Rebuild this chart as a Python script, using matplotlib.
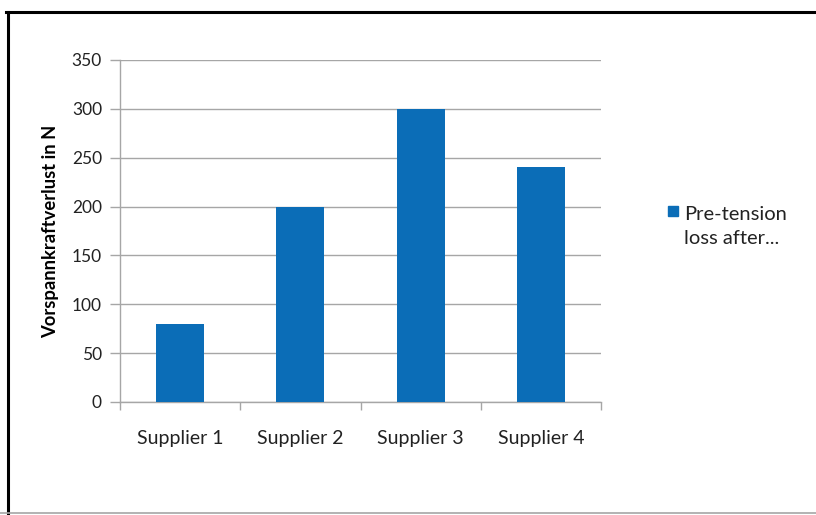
import matplotlib.pyplot as plt
from matplotlib.lines import Line2D

plt.rcParams['font.family'] = ['Lato', 'DejaVu Sans']

# Vorspannkraftverlust pro Lieferant
suppliers = ['Supplier 1', 'Supplier 2', 'Supplier 3', 'Supplier 4']
loss = [80, 200, 300, 240]
series_name = 'Pre-tension\nloss after...'
yticks = [0, 50, 100, 150, 200, 250, 300, 350]

bar_color = '#0B6DB7'
grid_color = '#A6A6A6'
text_color = '#222222'

fig = plt.figure(figsize=(8.16, 5.15), dpi=100)
ax = fig.add_axes([120 / 816, 1 - 402 / 515, 481 / 816, 342 / 515])

x = range(len(suppliers))
ax.bar(x, loss, width=0.4, color=bar_color, zorder=3)

ax.set_xlim(-0.5, len(suppliers) - 0.5)
ax.set_ylim(0, 350)
ax.set_yticks(yticks)
ax.set_xticks(list(x))
ax.set_xticklabels(suppliers, fontsize=14, color=text_color)
ax.tick_params(axis='y', labelsize=12.5, colors=grid_color, labelcolor=text_color,
               length=7, width=1, pad=6)
ax.tick_params(axis='x', length=0, pad=20)
# Teilstriche zwischen den Kategorien
ax.set_xticks([i + 0.5 for i in range(-1, len(suppliers))], minor=True)
ax.tick_params(axis='x', which='minor', length=6, color=grid_color, width=1)

ax.grid(axis='y', color=grid_color, linewidth=1, zorder=0)
for side in ['top', 'right']:
    ax.spines[side].set_visible(False)
for side in ['left', 'bottom']:
    ax.spines[side].set_color(grid_color)
    ax.spines[side].set_linewidth(1)

ax.set_ylabel('Vorspannkraftverlust in N', fontsize=13.2, fontweight='bold',
              labelpad=9)

# Legende rechts neben dem Diagramm
fig.patches.append(plt.Rectangle((668 / 816, 1 - 216 / 515), 10 / 816, 10 / 515,
                                 transform=fig.transFigure, color=bar_color))
fig.text(684 / 816, 1 - 227 / 515, series_name, fontsize=14.5, va='center',
         ha='left', linespacing=1.5, color=text_color)

# Rahmen
fig.add_artist(Line2D([6 / 816, 1], [1 - 12 / 515] * 2, color='black', lw=2.2,
                      transform=fig.transFigure))
fig.add_artist(Line2D([8 / 816] * 2, [0, 1 - 12 / 515], color='black', lw=2.2,
                      transform=fig.transFigure))
fig.add_artist(Line2D([0, 1], [2 / 515] * 2, color=grid_color, lw=1.2,
                      transform=fig.transFigure))

fig.savefig('out.png', dpi=100)
